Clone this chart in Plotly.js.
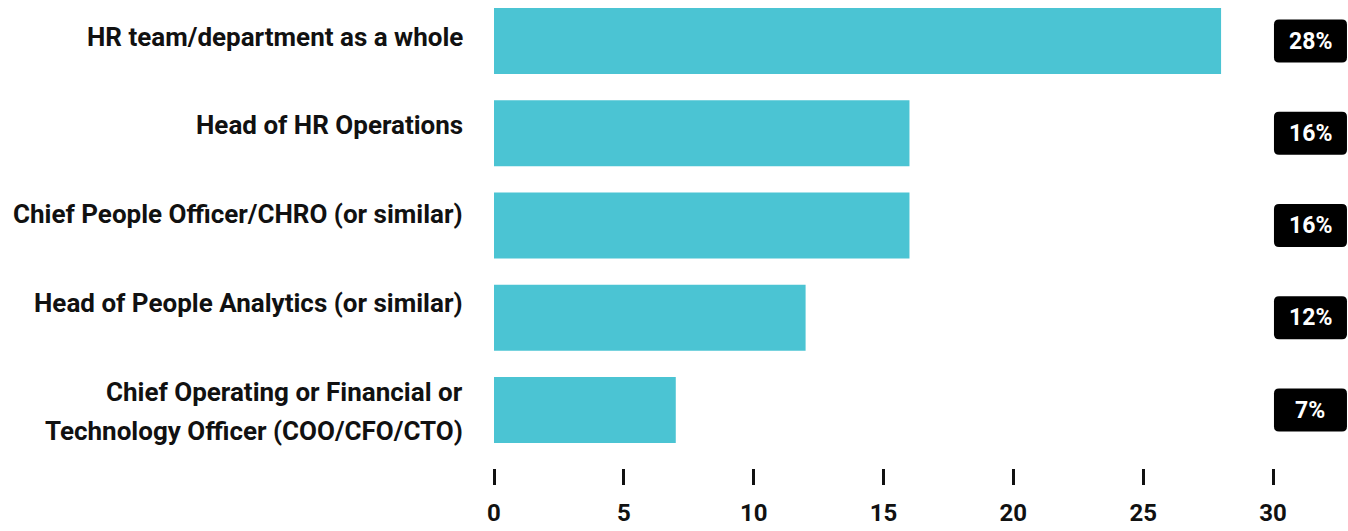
<!DOCTYPE html>
<html>
<head>
<meta charset="utf-8">
<script src="https://cdn.plot.ly/plotly-3.0.1.min.js"></script>
<style>html,body{margin:0;padding:0;background:#fff;}#chart{width:1348px;height:531px;}</style>
</head>
<body>
<div id="chart"></div>
<script>
// ---- data ----
const categories = [
  "HR team/department as a whole",
  "Head of HR Operations",
  "Chief People Officer/CHRO (or similar)",
  "Head of People Analytics (or similar)",
  "Chief Operating or Financial or<br>Technology Officer (COO/CFO/CTO)"
];
const values = [28, 16, 16, 12, 7];
const valueLabels = ["28%", "16%", "16%", "12%", "7%"];
const xTicks = [0, 5, 10, 15, 20, 25, 30];

// ---- style ----
const FONT = "Roboto, 'Noto Sans', sans-serif";
const BAR = "#4BC4D3";
const INK = "#111111";
const idx = categories.map((_, i) => i);

const trace = {
  type: "bar",
  orientation: "h",
  x: values,
  y: idx,
  marker: { color: BAR },
  hoverinfo: "skip"
};

const annotations = [];
const shapes = [];
const HW = 36.5, HH = 21.5, R = 5;
const boxPath =
  `M ${-HW + R} ${-HH} L ${HW - R} ${-HH} Q ${HW} ${-HH} ${HW} ${-HH + R} ` +
  `L ${HW} ${HH - R} Q ${HW} ${HH} ${HW - R} ${HH} L ${-HW + R} ${HH} ` +
  `Q ${-HW} ${HH} ${-HW} ${HH - R} L ${-HW} ${-HH + R} Q ${-HW} ${-HH} ${-HW + R} ${-HH} Z`;

categories.forEach((c, i) => {
  const lines = c.split("<br>");
  lines.forEach((line, k) => {
    annotations.push({
      xref: "paper", yref: "y2", x: -0.0372, y: i, yshift: -39 * k,
      xanchor: "right", yanchor: "middle", showarrow: false,
      text: line, font: { family: FONT, size: 26, weight: 700, color: INK }
    });
  });
  shapes.push({
    type: "path", xref: "paper", yref: "y",
    xsizemode: "pixel", ysizemode: "pixel",
    xanchor: 1.0481, yanchor: i,
    path: boxPath,
    fillcolor: "#000", line: { width: 0 }, layer: "above"
  });
  annotations.push({
    xref: "paper", yref: "y", x: 1.0475, y: i,
    xanchor: "center", yanchor: "middle", showarrow: false,
    text: valueLabels[i], font: { family: FONT, size: 23, weight: 700, color: "#fff" }
  });
});

const layout = {
  width: 1348, height: 531,
  margin: { l: 494, r: 75, t: 0, b: 63, pad: 0 },
  paper_bgcolor: "#fff", plot_bgcolor: "#fff",
  showlegend: false,
  bargap: 0.285,
  xaxis: {
    range: [0, 30], tickvals: xTicks, ticktext: xTicks.map(String),
    ticks: "outside", ticklen: 16, tickwidth: 3, tickcolor: INK,
    ticklabelstandoff: 7,
    showgrid: false, zeroline: false, showline: false,
    tickfont: { family: FONT, size: 24, weight: 700, color: INK },
    fixedrange: true
  },
  yaxis: {
    range: [4.6287, -0.4444], showticklabels: false, ticks: "",
    showgrid: false, zeroline: false, showline: false, fixedrange: true
  },
  yaxis2: {
    overlaying: "y", range: [4.8538, -0.4106], showticklabels: false, ticks: "",
    showgrid: false, zeroline: false, showline: false, fixedrange: true
  },
  annotations: annotations,
  shapes: shapes
};

Plotly.newPlot("chart", [trace], layout, { displayModeBar: false, staticPlot: true });
</script>
</body>
</html>
